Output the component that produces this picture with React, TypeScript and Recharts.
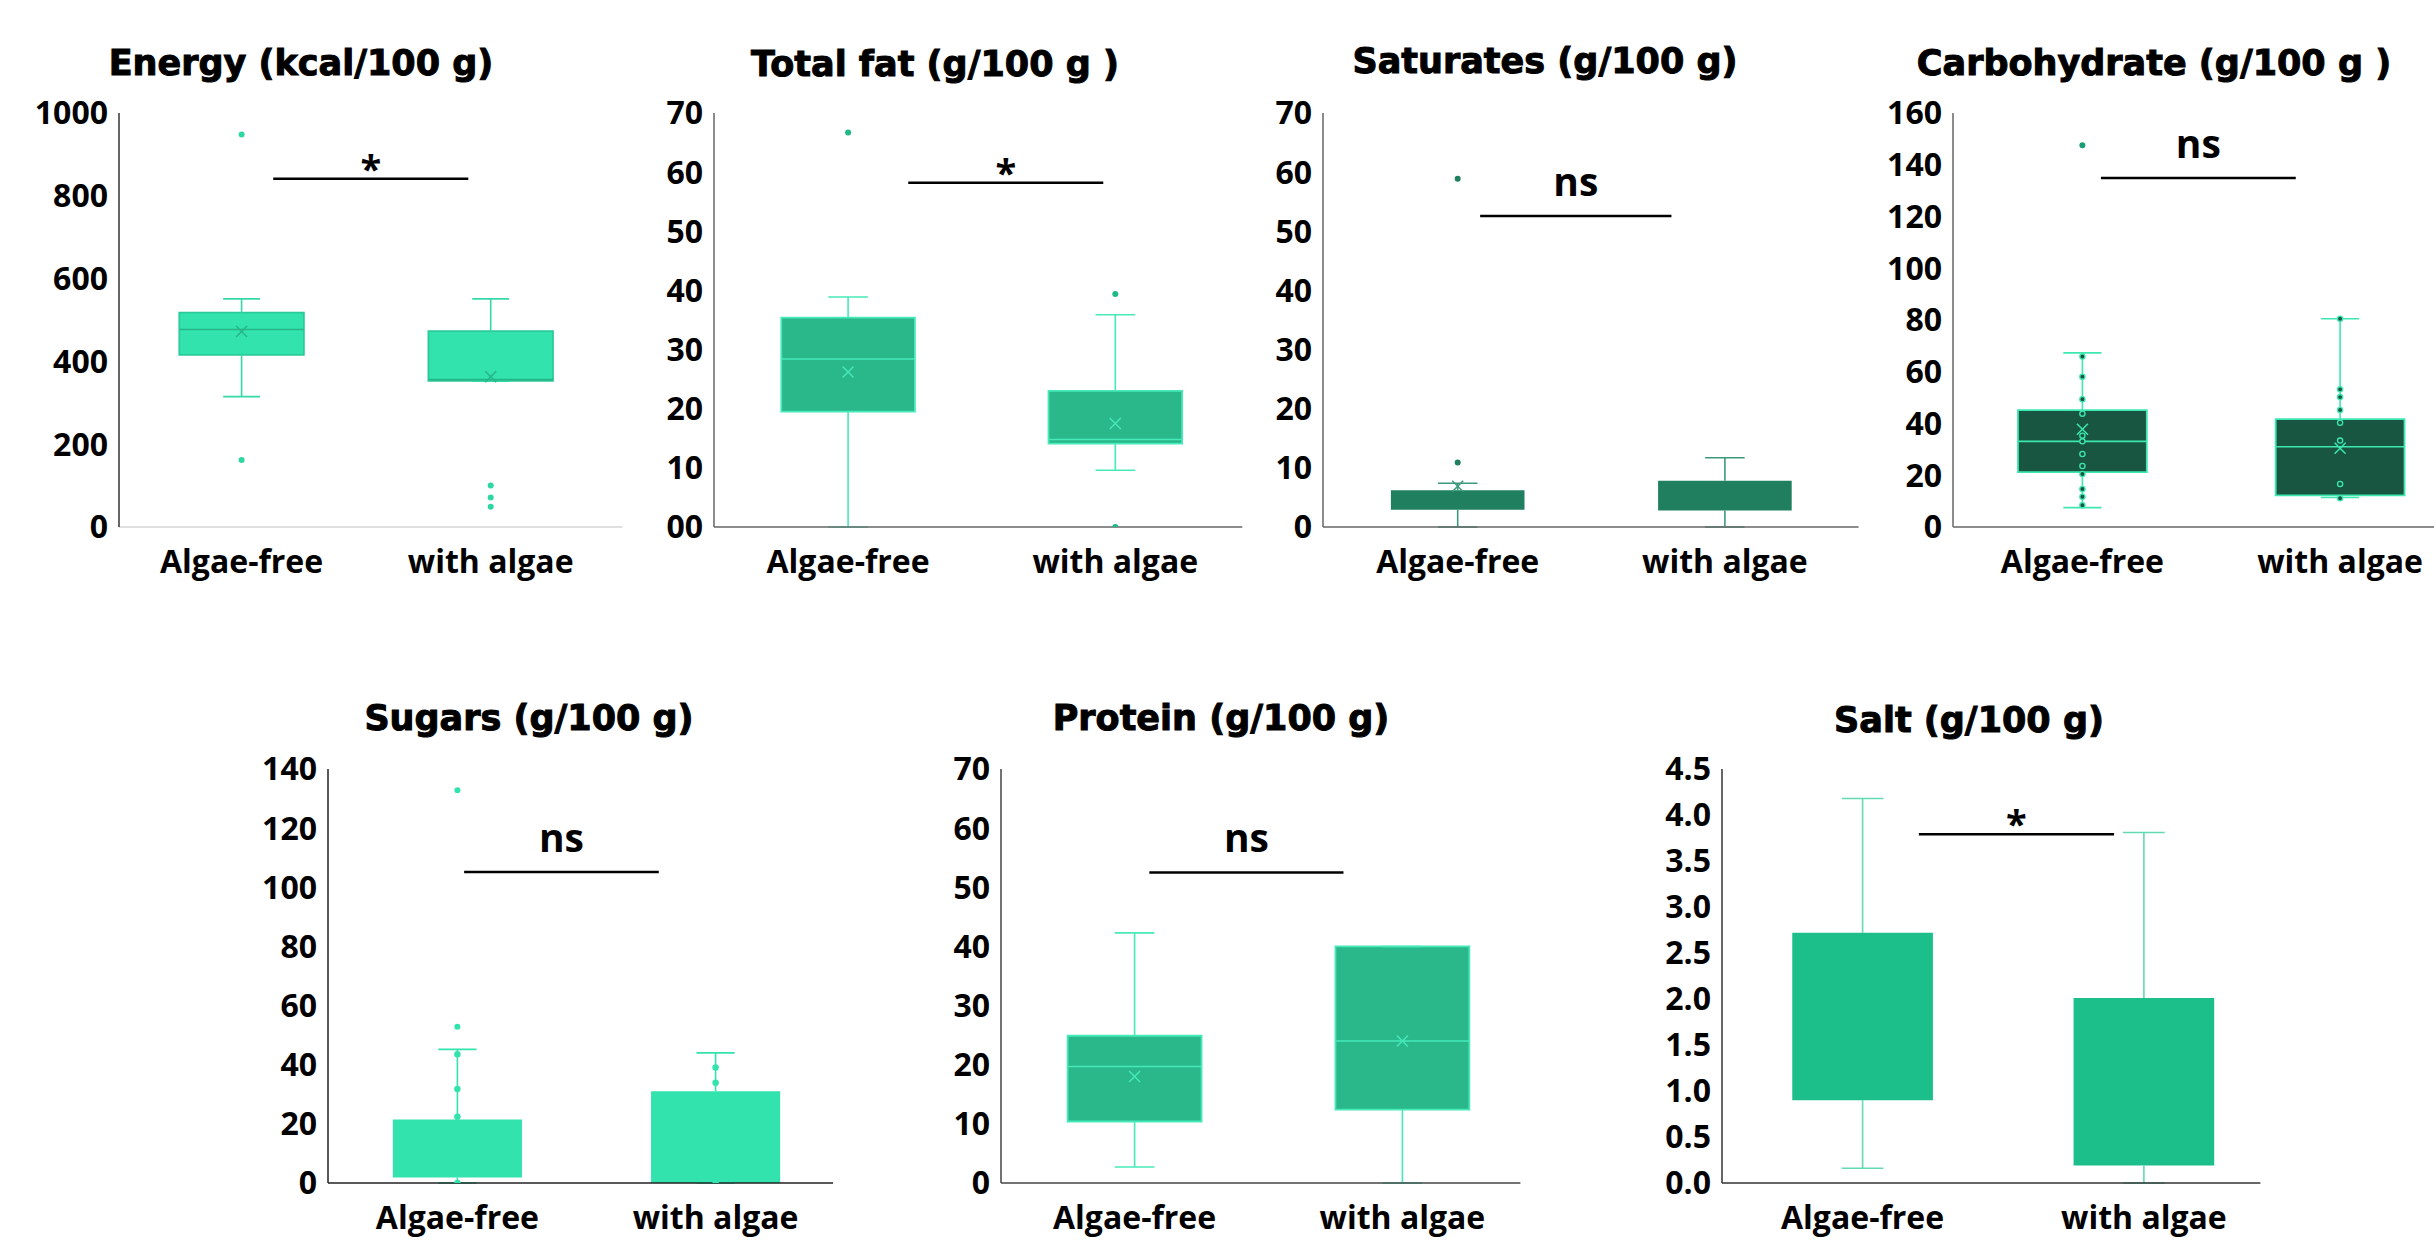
import React from "react";
import { ComposedChart, XAxis, YAxis, Scatter, ReferenceArea, ReferenceLine } from "recharts";

const groups = ["Algae-free", "with algae"];

// box = [min, q1, median, q3, max] per group (median null when it is not visible)
const energyBox = [[315, 416, 477, 518, 551], [352, 353, 356, 473, 551]];
const energyMean = [472, 363];
const energyOutliers = [[948, 162], [100, 71, 49]];
const energyTicks = [0, 200, 400, 600, 800, 1000];
const energyTickLabels = ["0", "200", "400", "600", "800", "1000"];

const fatBox = [[0, 19.5, 28.4, 35.4, 38.9], [9.6, 14.1, 14.8, 23.0, 35.9]];
const fatMean = [26.2, 17.5];
const fatOutliers = [[66.7], [39.4, 0]];
const fatTicks = [0, 10, 20, 30, 40, 50, 60, 70];
const fatTickLabels = ["00", "10", "20", "30", "40", "50", "60", "70"];

const satBox = [[0, 2.9, null, 6.2, 7.4], [0, 2.8, null, 7.8, 11.7]];
const satMean = [6.9, null];
const satOutliers = [[58.9, 10.9], []];
const satTicks = [0, 10, 20, 30, 40, 50, 60, 70];
const satTickLabels = ["0", "10", "20", "30", "40", "50", "60", "70"];

const carbBox = [[7.5, 21.2, 33.1, 45.2, 67.3], [11.4, 12.2, 31.0, 41.7, 80.5]];
const carbMean = [37.8, 30.4];
const carbPoints = [
  [65.9, 58.1, 49.4, 43.8, 35.3, 33.1, 28.2, 23.6, 20.5, 14.7, 11.7, 8.4],
  [80.5, 53.2, 50.2, 45.2, 40.3, 33.4, 16.6, 11.1],
];
const carbOutliers = [[147.5], []];
const carbTicks = [0, 20, 40, 60, 80, 100, 120, 140, 160];
const carbTickLabels = ["0", "20", "40", "60", "80", "100", "120", "140", "160"];

const sugarsBox = [[0, 1.9, null, 21.5, 45.2], [0, 0, null, 31.0, 44.0]];
const sugarsMean = [null, null];
const sugarsPoints = [[43.5, 31.8, 22.4, 0], [39.1, 33.9, 0]];
const sugarsOutliers = [[132.8, 52.8], []];
const sugarsTicks = [0, 20, 40, 60, 80, 100, 120, 140];
const sugarsTickLabels = ["0", "20", "40", "60", "80", "100", "120", "140"];

const proteinBox = [[2.7, 10.4, 19.7, 24.9, 42.3], [0, 12.4, 24.0, 40.0, 40.0]];
const proteinMean = [18.0, 24.0];
const proteinTicks = [0, 10, 20, 30, 40, 50, 60, 70];
const proteinTickLabels = ["0", "10", "20", "30", "40", "50", "60", "70"];

const saltBox = [[0.16, 0.9, null, 2.72, 4.18], [0, 0.19, null, 2.01, 3.81]];
const saltMean = [null, null];
const saltTicks = [0, 0.5, 1, 1.5, 2, 2.5, 3, 3.5, 4, 4.5];
const saltTickLabels = ["0.0", "0.5", "1.0", "1.5", "2.0", "2.5", "3.0", "3.5", "4.0", "4.5"];

const titles = [
  "Energy (kcal/100 g)",
  "Total fat (g/100 g )",
  "Saturates (g/100 g)",
  "Carbohydrate (g/100 g )",
  "Sugars (g/100 g)",
  "Protein (g/100 g)",
  "Salt (g/100 g)",
];
const sigLabels = ["*", "*", "ns", "ns", "ns", "ns", "*"];
const sigLevels = [841, 58.2, 52.6, 134.9, 105.2, 52.5, 3.79];

const FONT = "'Open Sans', 'Liberation Sans', sans-serif";
const TITLE_FONT = "'DejaVu Sans', 'Liberation Sans', sans-serif";
const Y_W = 110;
const M_T = 32;
const M_R = 2;
const X_H = 70;
const HALF = 0.25;
const CAP = 0.074;

const panels: any[] = [
  {
    box: energyBox, mean: energyMean, outliers: energyOutliers, points: null,
    ticks: energyTicks, tickLabels: energyTickLabels, yMax: 1000,
    L: { axisX: 118.6, c0: 241.2, unit: 249.1, right: 622, top: 113, bottom: 527, tx: 301, ty: 75, sig: [0.127, 0.91] },
    S: { fill: "#33E3AE", stroke: "#2BCB99", whisker: "#33D9A6", median: "#26B587", mean: "#26B587", outlier: "#2ED6A2", yAxis: "#333", xAxis: "#d4d4d4" },
  },
  {
    box: fatBox, mean: fatMean, outliers: fatOutliers, points: null,
    ticks: fatTicks, tickLabels: fatTickLabels, yMax: 70,
    L: { axisX: 713.7, c0: 847.8, unit: 267.2, right: 1242, top: 113, bottom: 527, tx: 935, ty: 76, sig: [0.225, 0.955] },
    S: { fill: "#2AB78A", stroke: "#46EAB8", whisker: "#46EAB8", median: "#46EAB8", mean: "#46EAB8", outlier: "#1DBA88", yAxis: "#666", xAxis: "#666" },
  },
  {
    box: satBox, mean: satMean, outliers: satOutliers, points: null,
    ticks: satTicks, tickLabels: satTickLabels, yMax: 70,
    L: { axisX: 1323.4, c0: 1458.1, unit: 267.2, right: 1859, top: 113, bottom: 527, tx: 1545, ty: 73, sig: [0.084, 0.8] },
    S: { fill: "#1F7F5F", stroke: null, whisker: "#3C9A7B", median: "#1F7F5F", mean: "#3C9A7B", outlier: "#1F7F5F", yAxis: "#666", xAxis: "#666" },
  },
  {
    box: carbBox, mean: carbMean, outliers: carbOutliers, points: carbPoints,
    ticks: carbTicks, tickLabels: carbTickLabels, yMax: 160,
    L: { axisX: 1952.5, c0: 2081.9, unit: 257.7, right: 2434, top: 113, bottom: 527, tx: 2154, ty: 75, sig: [0.072, 0.828] },
    S: { fill: "#185641", stroke: "#3DE8B0", whisker: "#3DE8B0", median: "#3DE8B0", mean: "#3DE8B0", outlier: "#1B9E76", pointFill: "#185641", pointStroke: "#3DE8B0", pointR: 2.6, yAxis: "#666", xAxis: "#666" },
  },
  {
    box: sugarsBox, mean: sugarsMean, outliers: sugarsOutliers, points: sugarsPoints,
    ticks: sugarsTicks, tickLabels: sugarsTickLabels, yMax: 140,
    L: { axisX: 328, c0: 457.4, unit: 258.2, right: 833, top: 769, bottom: 1183, tx: 529, ty: 730, sig: [0.026, 0.78] },
    S: { fill: "#33E3AE", stroke: null, whisker: "#33E3AE", median: "#33E3AE", mean: "#33E3AE", outlier: "#33E3AE", pointFill: "#33E3AE", pointStroke: "#33E3AE", pointR: 2.6, yAxis: "#222", xAxis: "#222" },
  },
  {
    box: proteinBox, mean: proteinMean, outliers: [[], []], points: null,
    ticks: proteinTicks, tickLabels: proteinTickLabels, yMax: 70,
    L: { axisX: 1000.6, c0: 1134.2, unit: 267.8, right: 1520, top: 769, bottom: 1183, tx: 1221, ty: 730, sig: [0.055, 0.78] },
    S: { fill: "#2AB78A", stroke: "#46EAB8", whisker: "#46EAB8", median: "#46EAB8", mean: "#46EAB8", outlier: "#2AB78A", yAxis: "#444", xAxis: "#444" },
  },
  {
    box: saltBox, mean: saltMean, outliers: [[], []], points: null,
    ticks: saltTicks, tickLabels: saltTickLabels, yMax: 4.5,
    L: { axisX: 1721.6, c0: 1862.2, unit: 281.3, right: 2260, top: 769, bottom: 1183, tx: 1969, ty: 732, sig: [0.2, 0.894] },
    S: { fill: "#1CBE8A", stroke: null, whisker: "#62D9B3", median: "#1CBE8A", mean: "#1CBE8A", outlier: "#1CBE8A", yAxis: "#333", xAxis: "#333" },
  },
];

const toXY = (lists: (number | null)[][]) =>
  lists.flatMap((vals, g) => vals.filter((v) => v != null).map((y) => ({ x: g, y })));

function Panel({ cfg, idx }: { cfg: any; idx: number }) {
  const { L, S } = cfg;
  const width = L.right - L.axisX + Y_W + M_R;
  const height = L.bottom - L.top + M_T + X_H;
  const xMin = -(L.c0 - L.axisX) / L.unit;
  const xMax = (L.right - L.c0) / L.unit;
  const label = sigLabels[idx];
  const tickStyle = { fontFamily: FONT, fontSize: 32, fontWeight: 700, fill: "#000" };

  const els: React.ReactNode[] = [];
  cfg.box.forEach(([mn, q1, md, q3, mx]: any[], g: number) => {
    const line = { stroke: S.whisker, strokeWidth: 1.6 };
    els.push(<ReferenceLine key={`wu${g}`} segment={[{ x: g, y: q3 }, { x: g, y: mx }]} {...line} />);
    els.push(<ReferenceLine key={`wl${g}`} segment={[{ x: g, y: mn }, { x: g, y: q1 }]} {...line} />);
    els.push(<ReferenceLine key={`cu${g}`} segment={[{ x: g - CAP, y: mx }, { x: g + CAP, y: mx }]} {...line} />);
    els.push(<ReferenceLine key={`cl${g}`} segment={[{ x: g - CAP, y: mn }, { x: g + CAP, y: mn }]} {...line} />);
    els.push(
      <ReferenceArea
        key={`b${g}`}
        x1={g - HALF}
        x2={g + HALF}
        y1={q1}
        y2={q3}
        fill={S.fill}
        fillOpacity={1}
        stroke={S.stroke || "none"}
        strokeWidth={1.8}
      />
    );
    if (md != null) {
      els.push(
        <ReferenceLine key={`m${g}`} segment={[{ x: g - HALF, y: md }, { x: g + HALF, y: md }]} stroke={S.median} strokeWidth={1.6} />
      );
    }
  });

  const sigContent = (props: any) => {
    const vb = props.viewBox || {};
    const isStar = label === "*";
    return (
      <text
        x={vb.x + vb.width / 2}
        y={isStar ? vb.y + 4 : vb.y - 20}
        textAnchor="middle"
        fontFamily={FONT}
        fontSize={isStar ? 38 : 39}
        fontWeight={700}
        fill="#000"
      >
        {label}
      </text>
    );
  };

  return (
    <div style={{ position: "absolute", left: L.axisX - Y_W, top: L.top - M_T }}>
      <ComposedChart width={width} height={height} margin={{ top: M_T, right: M_R, bottom: 0, left: 0 }}>
        <XAxis
          type="number"
          dataKey="x"
          domain={[xMin, xMax]}
          allowDataOverflow
          ticks={[0, 1]}
          interval={0}
          tickFormatter={(v: number) => groups[v]}
          tickLine={false}
          tickSize={0}
          tickMargin={23}
          height={X_H}
          axisLine={{ stroke: S.xAxis, strokeWidth: 1.5 }}
          tick={tickStyle}
        />
        <YAxis
          type="number"
          dataKey="y"
          domain={[0, cfg.yMax]}
          allowDataOverflow
          ticks={cfg.ticks}
          interval={0}
          tickFormatter={(v: number) => cfg.tickLabels[cfg.ticks.indexOf(v)]}
          tickLine={false}
          tickSize={0}
          tickMargin={11}
          width={Y_W}
          axisLine={{ stroke: S.yAxis, strokeWidth: 1.5 }}
          tick={tickStyle}
        />
        {els}
        <ReferenceLine
          segment={[{ x: L.sig[0], y: sigLevels[idx] }, { x: L.sig[1], y: sigLevels[idx] }]}
          stroke="#000"
          strokeWidth={2.5}
          label={sigContent}
        />
        {cfg.points && (
          <Scatter
            data={toXY(cfg.points)}
            isAnimationActive={false}
            shape={(p: any) => (
              <circle cx={p.cx} cy={p.cy} r={S.pointR} fill={S.pointFill} stroke={S.pointStroke} strokeWidth={1.3} />
            )}
          />
        )}
        <Scatter
          data={toXY(cfg.mean.map((m: number | null) => [m]))}
          isAnimationActive={false}
          shape={(p: any) => (
            <g stroke={S.mean} strokeWidth={1.5}>
              <line x1={p.cx - 5.5} y1={p.cy - 5.5} x2={p.cx + 5.5} y2={p.cy + 5.5} />
              <line x1={p.cx - 5.5} y1={p.cy + 5.5} x2={p.cx + 5.5} y2={p.cy - 5.5} />
            </g>
          )}
        />
        <Scatter
          data={toXY(cfg.outliers)}
          isAnimationActive={false}
          shape={(p: any) => <circle cx={p.cx} cy={p.cy} r={3} fill={S.outlier} />}
        />
      </ComposedChart>
    </div>
  );
}

export default function App() {
  return (
    <div style={{ position: "relative", width: 2434, height: 1241, overflow: "hidden", background: "#fff" }}>
      <style>{"body{margin:0}"}</style>
      {panels.map((cfg, i) => (
        <Panel key={i} cfg={cfg} idx={i} />
      ))}
      <svg width={2434} height={1241} style={{ position: "absolute", left: 0, top: 0, pointerEvents: "none" }}>
        {panels.map((cfg, i) => (
          <text
            key={i}
            x={cfg.L.tx}
            y={cfg.L.ty}
            textAnchor="middle"
            fontFamily={TITLE_FONT}
            fontWeight={700}
            fontSize={35}
            fill="#000"
            stroke="#000"
            strokeWidth={1}
            style={{ whiteSpace: "pre" }}
          >
            {titles[i]}
          </text>
        ))}
      </svg>
    </div>
  );
}
